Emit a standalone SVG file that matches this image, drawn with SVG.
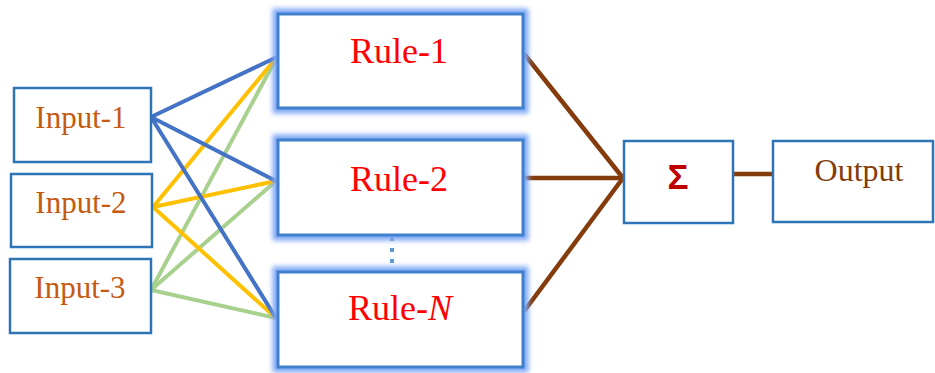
<svg xmlns="http://www.w3.org/2000/svg" width="935" height="373" viewBox="0 0 935 373">
<defs>
<filter id="glow" x="-20%" y="-20%" width="140%" height="140%">
<feGaussianBlur stdDeviation="2.5"/>
</filter>
<style>
.box{fill:#fff;stroke:#2E75B6;stroke-width:2.5}
.halo{fill:none;stroke:#7FA8F5;stroke-width:11;filter:url(#glow)}
.rule{fill:#fff;stroke:#3F7FCB;stroke-width:3}
.in{font-family:"Liberation Serif",serif;font-size:31px;fill:#C55A11;text-anchor:middle}
.rt{font-family:"Liberation Serif",serif;font-size:36px;fill:#FF0000;text-anchor:middle}
.out{font-family:"Liberation Serif",serif;font-size:32px;fill:#843C0C;text-anchor:middle}
.sig{font-family:"Liberation Sans",sans-serif;font-size:35px;font-weight:bold;fill:#C00000;text-anchor:middle}
.b{stroke:#4472C4;stroke-width:4}
.y{stroke:#FFC000;stroke-width:4}
.g{stroke:#A9D18E;stroke-width:4}
.br{stroke:#843C0C;stroke-width:4.5}
</style>
</defs>
<g id="connectors" fill="none" stroke-linecap="round">
<line class="g" x1="151" y1="290" x2="277" y2="57"/>
<line class="g" x1="151" y1="290" x2="276" y2="181"/>
<line class="g" x1="151" y1="290" x2="276" y2="318"/>
<line class="y" x1="153" y1="207" x2="277" y2="57"/>
<line class="y" x1="153" y1="207" x2="276" y2="181"/>
<line class="y" x1="153" y1="207" x2="276" y2="318"/>
<line class="b" x1="151" y1="117" x2="277" y2="57"/>
<line class="b" x1="151" y1="117" x2="276" y2="181"/>
<line class="b" x1="151" y1="117" x2="276" y2="318"/>
<line class="br" x1="525" y1="55" x2="623" y2="178"/>
<line class="br" x1="525" y1="178" x2="623" y2="178"/>
<line class="br" x1="525" y1="310" x2="623" y2="178"/>
<line class="br" x1="733" y1="174" x2="773" y2="174"/>
<line x1="392" y1="237" x2="392" y2="264" stroke="#5B9BD5" stroke-width="4" stroke-dasharray="4,7" stroke-linecap="butt"/>
</g>
<g id="input1">
<rect class="box" x="14" y="88" width="137" height="74"/>
<text class="in" x="81" y="128">Input-1</text>
</g>
<g id="input2">
<rect class="box" x="11" y="174" width="141" height="73"/>
<text class="in" x="81" y="213">Input-2</text>
</g>
<g id="input3">
<rect class="box" x="10" y="259" width="141" height="74"/>
<text class="in" x="80" y="298">Input-3</text>
</g>
<g id="rule1">
<rect class="halo" x="278" y="14" width="245" height="94"/>
<rect class="rule" x="278" y="14" width="245" height="94"/>
<text class="rt" x="399" y="63">Rule-1</text>
</g>
<g id="rule2">
<rect class="halo" x="278" y="140" width="245" height="95"/>
<rect class="rule" x="278" y="140" width="245" height="95"/>
<text class="rt" x="399" y="191">Rule-2</text>
</g>
<g id="ruleN">
<rect class="halo" x="278" y="272" width="245" height="95"/>
<rect class="rule" x="278" y="272" width="245" height="95"/>
<text class="rt" x="400" y="320">Rule-<tspan font-style="italic">N</tspan></text>
</g>
<g id="sum">
<rect class="box" x="624" y="141" width="109" height="82"/>
<text class="sig" x="678" y="189">Σ</text>
</g>
<g id="output">
<rect class="box" x="773" y="141" width="160" height="81" stroke="#4472C4"/>
<text class="out" x="859" y="181">Output</text>
</g>
</svg>
